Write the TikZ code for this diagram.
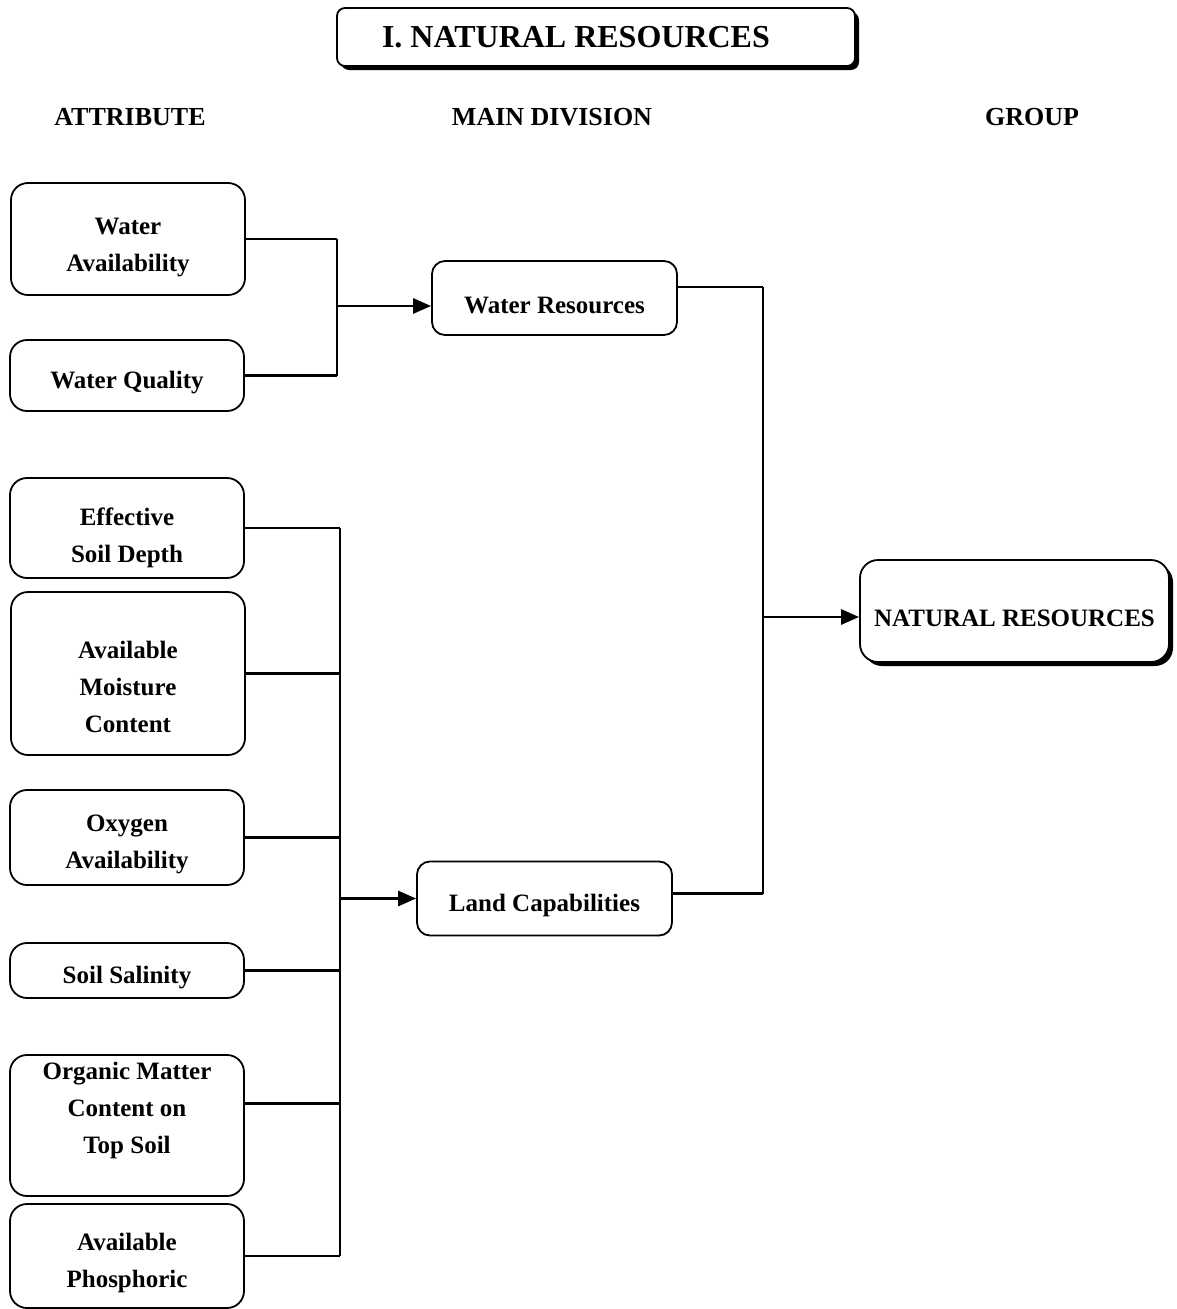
\documentclass[tikz,border=0pt]{standalone}
\usepackage{fontspec}
\setmainfont{Liberation Serif}
\usetikzlibrary{arrows.meta,shadows}
\newcommand{\padtop}[1]{\rule{0pt}{#1}}
\newcommand{\padbot}[1]{\rule[-#1]{0pt}{0pt}}
\tikzset{
  every picture/.style={color=black, font=\fontsize{25}{37}\selectfont\bfseries},
  box/.style={draw=black, line width=1.8pt, fill=white, align=center, inner sep=4pt,
    execute at begin node={\rule{0pt}{31pt}}},
  attr/.style={box, rounded corners=17pt, minimum width=234pt},
  div/.style={box, rounded corners=13pt, minimum height=74pt},
  grp/.style={box, rounded corners=18pt, minimum width=309pt, minimum height=102pt,
    drop shadow={shadow xshift=4pt, shadow yshift=-4pt, fill=black, opacity=1}},
  banner/.style={draw=black, line width=1.8pt, fill=white, inner sep=4pt,
    rounded corners=8pt, minimum width=518pt, minimum height=58pt,
    font=\fontsize{32}{38}\selectfont\bfseries,
    drop shadow={shadow xshift=4pt, shadow yshift=-4pt, fill=black, opacity=1}},
  head/.style={font=\fontsize{26}{30}\selectfont\bfseries},
  link/.style={line width=2.8pt},
  feed/.style={-{Triangle[length=18pt,width=15pt]}, line width=2.8pt},
}

\begin{document}
\begin{tikzpicture}[x=1pt, y=-1pt]
  \useasboundingbox (0,0) rectangle (1177,1309);
  % title and column heads
  \node[banner] (title) at (596,37) {I. NATURAL RESOURCES\hspace*{40pt}};
  \node[head] (hattr) at (130,117) {ATTRIBUTE};
  \node[head] (hdiv) at (552,117) {MAIN DIVISION};
  \node[head] (hgrp) at (1032,117) {GROUP};
  % attributes
  \node[attr, minimum height=112pt] (wa) at (128,239) {\padtop{33pt}Water\\Availability};
  \node[attr, minimum height=71pt] (wq) at (127,375.5) {Water Quality};
  \node[attr, minimum height=100pt] (esd) at (127,528) {\padtop{37pt}Effective\\Soil Depth};
  \node[attr, minimum height=163pt] (amc) at (128,673.5) {\padtop{45pt}Available\\Moisture\\Content};
  \node[attr, minimum height=95pt] (oxa) at (127,837.5) {\padtop{31pt}Oxygen\\Availability};
  \node[attr, minimum height=55pt] (sal) at (127,970.5) {Soil Salinity};
  \node[attr, minimum height=141pt] (org) at (127,1125.5) {Organic Matter\\Content on\\Top Soil\padbot{35pt}};
  \node[attr, minimum height=104pt] (pho) at (127,1256) {\padtop{31pt}Available\\Phosphoric};
  % main divisions and group
  \node[div, minimum width=245pt] (wr) at (554.5,298) {Water Resources};
  \node[div, minimum width=255pt] (lc) at (544.5,898.5) {Land Capabilities};
  \node[grp] (nr) at (1014.5,611) {NATURAL RESOURCES};
  % bus lines
  \coordinate (wbus) at (337,0);
  \coordinate (lbus) at (340,0);
  \coordinate (gbus) at (763,0);
  % water resources
  \draw[link] (wa.east) -- (wa.east -| wbus);
  \draw[link] (wq.east) -- (wq.east -| wbus);
  \draw[link] (wa.east -| wbus) -- (wq.east -| wbus);
  \draw[feed] ([yshift=-8pt]wbus |- wr.west) -- ([yshift=-8pt]wr.west);
  % land capabilities
  \foreach \n in {esd,amc,oxa,sal,pho}
    \draw[link] (\n.east) -- (\n.east -| lbus);
  \draw[link] ([yshift=22pt]org.east) -- ([yshift=22pt]org.east -| lbus);
  \draw[link] (esd.east -| lbus) -- (pho.east -| lbus);
  \draw[feed] (lbus |- lc.west) -- (lc.west);
  % group
  \draw[link] ([yshift=11pt]wr.east) -- ([yshift=11pt]wr.east -| gbus);
  \draw[link] ([yshift=5pt]lc.east) -- ([yshift=5pt]lc.east -| gbus);
  \draw[link] ([yshift=11pt]wr.east -| gbus) -- ([yshift=5pt]lc.east -| gbus);
  \draw[feed] ([yshift=-6pt]gbus |- nr.west) -- ([yshift=-6pt]nr.west);
\end{tikzpicture}
\end{document}
